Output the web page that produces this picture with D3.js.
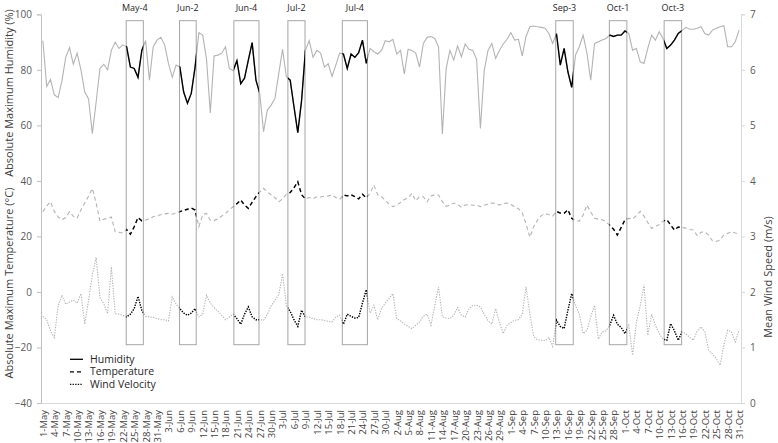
<!DOCTYPE html>
<html>
<head>
<meta charset="utf-8">
<script src="https://cdn.jsdelivr.net/npm/d3@7"></script>
<style>
body { margin: 0; background: #fff; }
svg text { font-family: "Open Sans", sans-serif; fill: #404040; }
</style>
</head>
<body>
<svg class="weather-chart" width="778" height="443"></svg>
<script>
"use strict";

// categories: every day from 1 May to 31 Oct
var months = ["May", "Jun", "Jul", "Aug", "Sep", "Oct"];
var monthLengths = [31, 30, 31, 31, 30, 31];

// absolute maximum humidity (%), one per day
var humidity = [
    90.5, 74, 76.5, 71, 70, 76, 84.5, 88, 82, 86, 80, 72, 69.5, 57, 68.5, 80.5, 82, 80, 87, 90,
    87.7, 89, 88.3, 81, 80.5, 77.3, 87, 90.5, 76.3, 88.3, 90.7, 91.7, 89, 82.3, 77.3, 81.7, 81, 72, 68, 71.5,
    81, 93.4, 92.5, 84, 64.5, 85, 85.3, 86, 88.3, 80.5, 79.7, 83.3, 75, 77, 83.5, 89.8, 76.3, 71.5, 57.7, 65.5,
    67.3, 69.7, 78.7, 87.4, 77.5, 76.3, 66.7, 57.4, 69, 87, 90.5, 84.5, 87, 86, 81, 82.2, 77.6, 81.7, 86, 85.7,
    80.5, 85.7, 84.5, 86.2, 90.7, 82.3, 87.7, 86.5, 85.7, 87, 90.5, 90.1, 91, 85.7, 87, 78.5, 87.4, 87, 86, 81,
    89.5, 91.7, 92, 91.3, 88.3, 56.9, 80.5, 87, 83.5, 88.6, 84.7, 89.3, 87.4, 87, 83.7, 58.9, 79.7, 87, 89.5, 84.1,
    87, 89.3, 91, 93.4, 90.7, 91, 85, 92, 95.5, 95.8, 95.5, 95.3, 95, 93.1, 89.5, 93, 81.7, 87.7, 79.3, 73.7,
    85.3, 88.3, 92.5, 86, 76.3, 89.5, 90.1, 90.7, 91.3, 92.5, 92, 92.5, 92.5, 94, 93.1, 87.1, 87.7, 82.9, 82.3, 87.7,
    92.5, 90.7, 93.7, 91.3, 87.7, 88.9, 90.7, 93.1, 94.1, 95.3, 94.6, 94.6, 95, 95.5, 93.1, 92.5, 94.3, 95, 95.5, 95.9,
    88.3, 88.3, 90.1, 94.3
];

// absolute maximum temperature (deg C)
var temperature = [
    28.9, 31, 32.5, 29, 27, 26, 26.8, 28.9, 27.2, 26.6, 29.5, 32, 34.5, 37.3, 32, 25.5, 26.2, 26.5, 27, 21.7,
    21.5, 21.2, 22.5, 20.8, 23.5, 26.8, 25.6, 25.9, 26.3, 27.1, 27.5, 27.8, 28.1, 28.3, 28, 28.4, 28.9, 29.4, 29.8, 30.2,
    29.5, 23.5, 27.8, 28.3, 25.8, 25.7, 26.3, 27.3, 28.3, 29.6, 30.7, 31.8, 33.1, 31.3, 30.1, 32.3, 34.3, 36, 37.3, 36,
    35, 34, 32.5, 33.5, 35.2, 35.8, 37.5, 39.7, 35, 33.5, 34, 33.6, 34.3, 34.2, 34.5, 34.6, 34.9, 34, 33.3, 34.9,
    34.6, 35, 34.3, 33.5, 35.2, 33.9, 35.5, 38.5, 35, 34.3, 33, 31.6, 30.7, 31.3, 32.2, 33.3, 33.8, 35.5, 32.8, 34.3,
    34.3, 32.5, 34.6, 35, 34.9, 32.5, 30.8, 31.3, 32, 31.5, 30.5, 31.3, 31.4, 31.2, 31.3, 30.7, 31.2, 31.7, 32, 31.9,
    31.3, 31.8, 32, 31.5, 30.7, 30, 28.5, 24.5, 19.7, 23.5, 25.9, 27.5, 28.3, 27.8, 27.3, 29, 28.4, 28.3, 29.6, 26.5,
    25.6, 25.5, 27.7, 31.3, 28.8, 26.5, 26.2, 26, 25.3, 24, 22.6, 20.5, 23.2, 26, 26.5, 26.3, 27.5, 29, 27.3, 25,
    22.9, 23.5, 24.3, 25.5, 26, 24.1, 22.3, 23.4, 23.2, 23, 22.5, 22.3, 20.3, 21.5, 21.7, 20.5, 18.4, 18.2, 18.7, 20.5,
    21.1, 21.7, 21.2, 20.8
];

// mean wind speed (m/s), right axis
var windSpeed = [
    1.56, 1.5, 1.3, 1.18, 1.75, 1.94, 1.78, 1.82, 1.85, 1.8, 1.97, 1.42, 1.85, 2.3, 2.62, 1.9, 1.79, 1.61, 2.45, 1.61,
    1.6, 1.58, 1.55, 1.6, 1.7, 1.92, 1.67, 1.56, 1.55, 1.54, 1.52, 1.5, 1.5, 1.48, 1.91, 1.78, 1.7, 1.62, 1.58, 1.62,
    1.7, 1.55, 1.6, 1.94, 1.8, 1.72, 1.65, 1.58, 1.5, 1.55, 1.6, 1.52, 1.42, 1.6, 1.73, 1.55, 1.5, 1.5, 1.49, 1.6,
    1.75, 1.85, 1.95, 2.33, 1.75, 1.65, 1.5, 1.38, 1.67, 1.55, 1.55, 1.52, 1.5, 1.5, 1.49, 1.47, 1.46, 1.55, 1.58, 1.42,
    1.6, 1.56, 1.53, 1.54, 1.8, 2.04, 1.62, 1.76, 1.5, 1.7, 1.8, 1.88, 1.97, 1.52, 1.48, 1.42, 1.38, 1.34, 1.4, 1.46,
    1.56, 1.6, 1.4, 1.75, 2.09, 1.55, 1.53, 1.52, 1.58, 1.72, 1.58, 1.55, 1.7, 1.76, 1.76, 1.73, 1.6, 1.48, 1.42, 1.7,
    1.45, 1.25, 1.4, 1.45, 1.49, 1.5, 1.6, 2.09, 1.6, 1.2, 1.14, 1.13, 1.12, 1.18, 1.02, 1.49, 1.38, 1.34, 1.67, 1.97,
    1.75, 1.6, 1.25, 1.31, 1.55, 1.76, 1.15, 1.28, 1.3, 1.4, 1.58, 1.42, 1.36, 1.25, 1.4, 0.86, 1.45, 1.75, 2.13, 1.22,
    1.6, 1.4, 1.25, 1.15, 1.13, 1.43, 1.3, 1.13, 1.28, 1.25, 1.18, 1.13, 1.3, 1.37, 1.28, 0.95, 0.88, 0.8, 0.68, 1.05,
    1.31, 1.28, 1.1, 1.31
];

// highlighted weeks: label, first and last day index covered by the box
var weekLabels = ["May-4", "Jun-2", "Jun-4", "Jul-2", "Jul-4", "Sep-3", "Oct-1", "Oct-3"];
var weekStart = [21.9, 35.9, 50.2, 64.4, 78.7, 134.8, 148.9, 163.3];
var weekEnd = [26.4, 40.3, 56.8, 68.9, 85.3, 139.4, 153.5, 167.9];
var weekBoxRange = [-19, 97.7]; // left axis units

var leftTicks = [-40, -20, 0, 20, 40, 60, 80, 100];
var rightTicks = [0, 1, 2, 3, 4, 5, 6, 7];
var legendNames = ["Humidity", "Temperature", "Wind Velocity"];

function buildDays() {
    var days = [];
    months.forEach(function (m, k) {
        for (var d = 1; d <= monthLengths[k]; d++) {
            days.push(d + "-" + m);
        }
    });
    return days;
}

function drawChart() {
    var days = buildDays();
    var svg = d3.select("svg.weather-chart");
    var margin = { top: 14.3, right: 37, bottom: 40, left: 41 };
    var width = +svg.attr("width") - margin.left - margin.right;
    var height = +svg.attr("height") - margin.top - margin.bottom;
    var g = svg.append("g").attr("transform", "translate(" + margin.left + ", " + margin.top + ")");

    var x = d3.scaleLinear().domain([-0.5, days.length - 0.5]).range([0, width]);
    var yLeft = d3.scaleLinear().domain([-40, 100]).range([height, 0]);
    var yRight = d3.scaleLinear().domain([0, 7]).range([height, 0]);

    // axes
    var xTicks = d3.range(0, days.length, 3);
    var xAxis = g.append("g").attr("class", "axis axis--x").attr("transform", "translate(0, " + height + ")")
        .call(d3.axisBottom(x).tickValues(xTicks).tickSize(0).tickFormat(function (i) { return days[i]; }));
    xAxis.select(".domain").attr("stroke", "#d9d9d9");
    xAxis.selectAll("text").attr("transform", "rotate(-90)").attr("text-anchor", "end")
        .attr("x", -7).attr("y", 0).attr("dy", "0.36em").style("font-size", "9.5px").style("fill", "#404040");

    var leftAxis = g.append("g").attr("class", "axis axis--left")
        .call(d3.axisLeft(yLeft).tickValues(leftTicks).tickSize(4).tickPadding(5));
    leftAxis.select(".domain").attr("stroke", "#bfbfbf");
    leftAxis.selectAll(".tick line").attr("stroke", "#bfbfbf");
    leftAxis.selectAll("text").style("font-size", "10px").style("fill", "#595959");

    var rightAxis = g.append("g").attr("class", "axis axis--right").attr("transform", "translate(" + width + ", 0)")
        .call(d3.axisRight(yRight).tickValues(rightTicks).tickFormat(d3.format("d")).tickSize(4).tickPadding(5));
    rightAxis.select(".domain").attr("stroke", "#d9d9d9");
    rightAxis.selectAll(".tick line").attr("stroke", "#d9d9d9");
    rightAxis.selectAll("text").style("font-size", "10px").style("fill", "#595959");

    // axis titles
    svg.append("text").attr("transform", "translate(9, " + 93 + ") rotate(-90)").attr("text-anchor", "middle")
        .attr("dy", "0.35em").style("font-size", "11px").text("Absolute Maximum Humidity (%)");
    svg.append("text").attr("transform", "translate(9, " + 283 + ") rotate(-90)").attr("text-anchor", "middle")
        .attr("dy", "0.35em").style("font-size", "11px").text("Absolute Maximum Temperature (°C)");
    svg.append("text").attr("transform", "translate(768, " + 277 + ") rotate(-90)").attr("text-anchor", "middle")
        .attr("dy", "0.35em").style("font-size", "11px").text("Mean Wind Speed (m/s)");

    // clip covering the highlighted weeks
    var clip = svg.append("defs").append("clipPath").attr("id", "weekClip");
    clip.selectAll("rect").data(weekLabels).enter().append("rect")
        .attr("x", function (d, i) { return x(weekStart[i]); })
        .attr("y", 0)
        .attr("width", function (d, i) { return x(weekEnd[i]) - x(weekStart[i]); })
        .attr("height", height);

    var humLine = d3.line().x(function (d, i) { return x(i); }).y(function (d) { return yLeft(d); });
    var tempLine = d3.line().x(function (d, i) { return x(i); }).y(function (d) { return yLeft(d); });
    var windLine = d3.line().x(function (d, i) { return x(i); }).y(function (d) { return yRight(d); });

    var series = [
        { data: humidity, line: humLine, dash: null },
        { data: temperature, line: tempLine, dash: "4,3" },
        { data: windSpeed, line: windLine, dash: "1.3,1.3" }
    ];

    series.forEach(function (s) {
        g.append("path").datum(s.data).attr("fill", "none").attr("stroke", "#b3b3b3")
            .attr("stroke-width", 1.1).attr("stroke-dasharray", s.dash).attr("d", s.line);
    });

    // week boxes
    g.selectAll(".week-box").data(weekLabels).enter().append("rect").attr("class", "week-box")
        .attr("x", function (d, i) { return x(weekStart[i]); })
        .attr("y", yLeft(weekBoxRange[1]))
        .attr("width", function (d, i) { return x(weekEnd[i]) - x(weekStart[i]); })
        .attr("height", yLeft(weekBoxRange[0]) - yLeft(weekBoxRange[1]))
        .attr("fill", "none").attr("stroke", "#a6a6a6").attr("stroke-width", 1);

    series.forEach(function (s) {
        g.append("path").datum(s.data).attr("fill", "none").attr("stroke", "#000")
            .attr("stroke-width", 1.4).attr("stroke-dasharray", s.dash)
            .attr("clip-path", "url(#weekClip)").attr("d", s.line);
    });

    g.selectAll(".week-label").data(weekLabels).enter().append("text").attr("class", "week-label")
        .attr("x", function (d, i) { return x((weekStart[i] + weekEnd[i]) / 2); })
        .attr("y", -3.6).attr("text-anchor", "middle").style("font-size", "9px").style("fill", "#262626")
        .text(function (d) { return d; });

    // legend
    var legend = g.append("g").attr("transform", "translate(29, 345)");
    legendNames.forEach(function (name, i) {
        legend.append("line").attr("x1", 0).attr("x2", 13).attr("y1", i * 12.5).attr("y2", i * 12.5)
            .attr("stroke", "#000").attr("stroke-width", 1.3).attr("stroke-dasharray", series[i].dash);
        legend.append("text").attr("x", 20).attr("y", i * 12.5).attr("dy", "0.35em")
            .style("font-size", "10.5px").style("fill", "#262626").text(name);
    });
}

drawChart();
</script>
</body>
</html>
